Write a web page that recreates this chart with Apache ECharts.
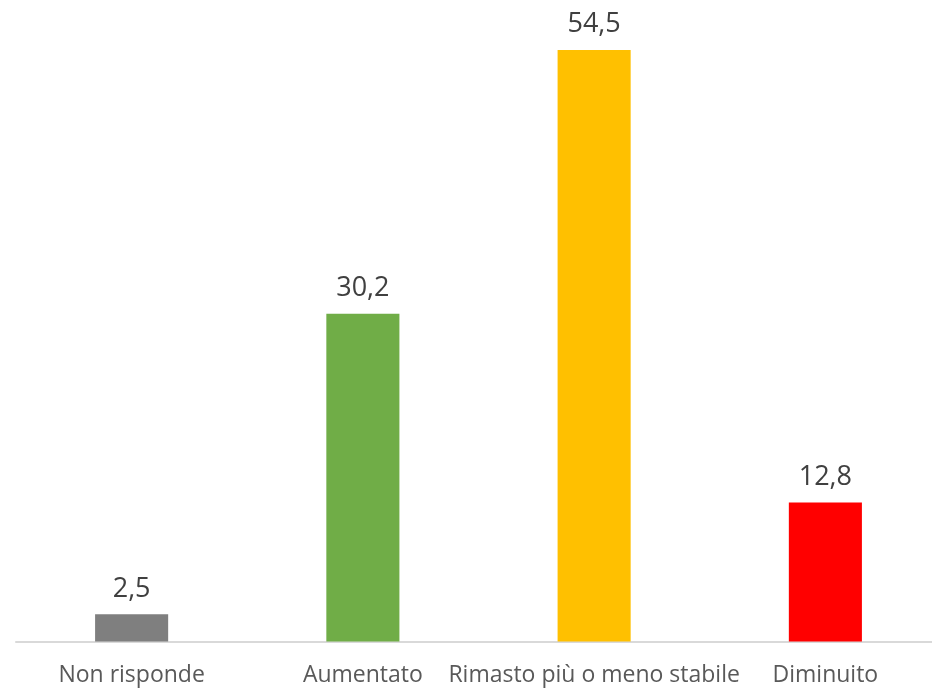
<!DOCTYPE html>
<html>
<head>
<meta charset="utf-8">
<script src="https://cdn.jsdelivr.net/npm/echarts@6/dist/echarts.min.js"></script>
<style>
  html, body { margin: 0; padding: 0; background: #fff; overflow: hidden; }
  #main { width: 950px; height: 692px; }
</style>
</head>
<body>
<div id="main"></div>
<script>
const categories = ['Non risponde', 'Aumentato', 'Rimasto più o meno stabile', 'Diminuito'];
const values = [2.5, 30.2, 54.5, 12.8];
const barColors = ['#7f7f7f', '#70ad47', '#ffc000', '#ff0000'];

// chart area runs a little past the right edge of the window, like the original
const chart = echarts.init(document.getElementById('main'));

chart.setOption({
    animation: false,
    grid: { left: 16, right: 9, top: 50, bottom: 50.5, containLabel: false },
    xAxis: {
        type: 'category',
        data: categories,
        axisLine: { lineStyle: { color: '#d9d9d9', width: 2 } },
        axisTick: { show: false },
        axisLabel: {
            color: '#595959',
            fontSize: 23,
            fontFamily: 'Open Sans',
            margin: 22,
            interval: 0
        }
    },
    yAxis: {
        type: 'value',
        min: 0,
        max: 54.5,
        show: false,
        splitLine: { show: false }
    },
    series: [{
        type: 'bar',
        data: values.map((v, i) => ({ value: v, itemStyle: { color: barColors[i] } })),
        barWidth: '31.6%',
        label: {
            show: true,
            position: 'top',
            distance: 12,
            color: '#404040',
            fontSize: 27,
            fontFamily: 'Open Sans',
            formatter: p => String(p.value).replace('.', ',')
        }
    }]
});
</script>
</body>
</html>
